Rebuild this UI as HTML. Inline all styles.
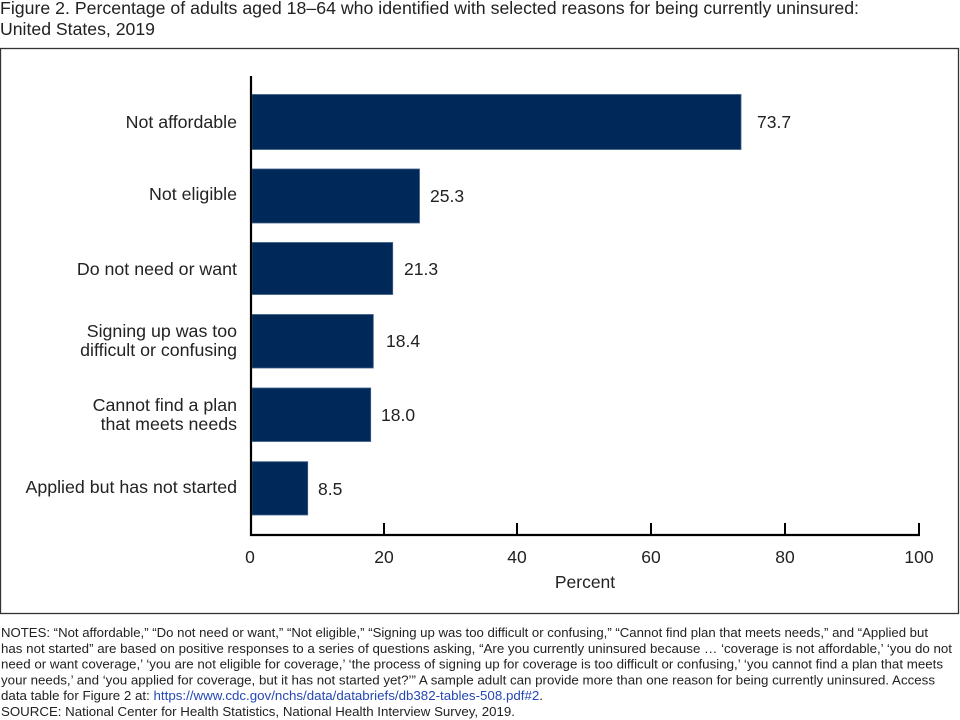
<!DOCTYPE html>
<html>
<head>
<meta charset="utf-8">
<style>
  html, body { margin: 0; padding: 0; background: #fff; }
  body { width: 960px; height: 720px; overflow: hidden; }
  svg { display: block; }
  text { font-family: "Liberation Sans", Arial, sans-serif; fill: #222; }
</style>
</head>
<body>
<svg width="960" height="720" viewBox="0 0 960 720" xmlns="http://www.w3.org/2000/svg">
  <!-- Title -->
  <text x="0" y="14" font-size="17.2" textLength="859" lengthAdjust="spacingAndGlyphs">Figure 2. Percentage of adults aged 18–64 who identified with selected reasons for being currently uninsured:</text>
  <text x="0" y="35" font-size="17.2" textLength="155" lengthAdjust="spacingAndGlyphs">United States, 2019</text>

  <!-- Frame -->
  <rect x="0.5" y="48.5" width="958" height="565" fill="none" stroke="#333" stroke-width="1.3"/>

  <!-- Bars -->
  <g fill="#00295a" stroke="#3d5f88" stroke-width="0.8">
    <rect x="252" y="94.5" width="489" height="55"/>
    <rect x="252" y="169" width="167.5" height="54"/>
    <rect x="252" y="242.5" width="140.7" height="52"/>
    <rect x="252" y="314.5" width="121.3" height="53.5"/>
    <rect x="252" y="388" width="118.7" height="53.5"/>
    <rect x="252" y="461.7" width="55.7" height="53.3"/>
  </g>

  <!-- Axes -->
  <line x1="251" y1="76" x2="251" y2="536" stroke="#000" stroke-width="2.2"/>
  <line x1="250" y1="535" x2="920" y2="535" stroke="#000" stroke-width="2.2"/>
  <g stroke="#000" stroke-width="2">
    <line x1="384" y1="523" x2="384" y2="535"/>
    <line x1="517" y1="523" x2="517" y2="535"/>
    <line x1="651" y1="523" x2="651" y2="535"/>
    <line x1="785" y1="523" x2="785" y2="535"/>
    <line x1="919" y1="523" x2="919" y2="535"/>
  </g>

  <!-- Tick labels -->
  <g font-size="17.5" text-anchor="middle">
    <text x="250" y="563">0</text>
    <text x="384" y="563">20</text>
    <text x="517" y="563">40</text>
    <text x="651" y="563">60</text>
    <text x="785" y="563">80</text>
    <text x="919" y="563">100</text>
    <text x="585" y="588">Percent</text>
  </g>

  <!-- Category labels -->
  <g font-size="17.8" text-anchor="end">
    <text x="237" y="128">Not affordable</text>
    <text x="237" y="200">Not eligible</text>
    <text x="237" y="275">Do not need or want</text>
    <text x="237" y="337">Signing up was too</text>
    <text x="237" y="356">difficult or confusing</text>
    <text x="237" y="411">Cannot find a plan</text>
    <text x="237" y="430">that meets needs</text>
    <text x="237" y="493">Applied but has not started</text>
  </g>

  <!-- Value labels -->
  <g font-size="17.5">
    <text x="757" y="128">73.7</text>
    <text x="430" y="202">25.3</text>
    <text x="404" y="275">21.3</text>
    <text x="386" y="347">18.4</text>
    <text x="381" y="421">18.0</text>
    <text x="318" y="495">8.5</text>
  </g>

  <!-- Notes -->
  <g font-size="13.3">
    <text x="1" y="637" textLength="927" lengthAdjust="spacingAndGlyphs">NOTES: “Not affordable,” “Do not need or want,” “Not eligible,” “Signing up was too difficult or confusing,” “Cannot find plan that meets needs,” and “Applied but</text>
    <text x="1" y="653" textLength="951" lengthAdjust="spacingAndGlyphs">has not started” are based on positive responses to a series of questions asking, “Are you currently uninsured because … ‘coverage is not affordable,’ ‘you do not</text>
    <text x="1" y="668.6" textLength="942" lengthAdjust="spacingAndGlyphs">need or want coverage,’ ‘you are not eligible for coverage,’ ‘the process of signing up for coverage is too difficult or confusing,’ ‘you cannot find a plan that meets</text>
    <text x="1" y="684.4" textLength="934" lengthAdjust="spacingAndGlyphs">your needs,’ and ‘you applied for coverage, but it has not started yet?’” A sample adult can provide more than one reason for being currently uninsured. Access</text>
    <text x="1" y="700.2" textLength="542" lengthAdjust="spacingAndGlyphs">data table for Figure 2 at: <tspan fill="#2447b5">https://www.cdc.gov/nchs/data/databriefs/db382-tables-508.pdf#2</tspan>.</text>
    <text x="1" y="716" textLength="514" lengthAdjust="spacingAndGlyphs">SOURCE: National Center for Health Statistics, National Health Interview Survey, 2019.</text>
  </g>
</svg>
</body>
</html>
